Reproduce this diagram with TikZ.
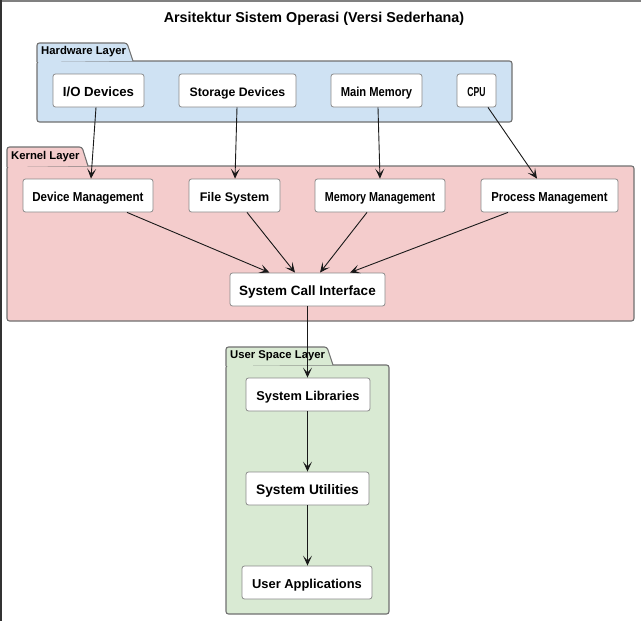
\documentclass[tikz,border=0pt]{standalone}
\usepackage{fontspec}
\usepackage{graphicx}
\setmainfont{Liberation Sans}
\usetikzlibrary{arrows.meta}
\definecolor{hwfill}{HTML}{CFE2F3}
\definecolor{kfill}{HTML}{F4CCCC}
\definecolor{ufill}{HTML}{D9EAD3}
\definecolor{frameline}{HTML}{707070}
\definecolor{boxline}{HTML}{8A8A8A}
\newcommand{\squeezed}[2]{\scalebox{#1}[1]{#2}}
\tikzset{
  box/.style={draw=boxline, line width=0.8pt, fill=white, rounded corners=2.5pt,
    minimum height=33pt, inner sep=0pt, text height=12pt, text depth=0pt,
    font=\bfseries\fontsize{#1}{#1}\selectfont},
  box/.default=13,
  layer/.style={draw=frameline, line width=1.1pt, rounded corners=2.5pt},
  tablabel/.style={anchor=west, inner sep=0pt, font=\bfseries\fontsize{11.3}{13}\selectfont},
  conn/.style={-{Stealth[length=10pt,width=9pt,inset=5pt]}, line width=0.9pt, black!90},
}
\begin{document}
\begin{tikzpicture}[x=1pt,y=-1pt]
\useasboundingbox (0,0) rectangle (641,621);
\draw[gray, line width=1.5pt] (0,0.75) -- (641,0.75);
\draw[black!80, line width=1.5pt] (0.75,0) -- (0.75,621);

\node[font=\bfseries\fontsize{14.3}{16}\selectfont] (title) at (314,19) {Arsitektur Sistem Operasi (Versi Sederhana)};

% Hardware layer
\draw[layer, fill=hwfill] (37,61) rectangle (512,122);
\draw[layer, fill=hwfill] (37,62) -- (37,43) -- (127,43) -- (133,61);
\node[tablabel] (hwl) at (41,52) {Hardware Layer};

% Kernel layer
\draw[layer, fill=kfill] (7,166) rectangle (634,321);
\draw[layer, fill=kfill] (7,167) -- (7,147) -- (82,147) -- (88,166);
\node[tablabel] (kl) at (11,157) {Kernel Layer};

% User space layer
\draw[layer, fill=ufill] (226,365) rectangle (389,614);
\draw[layer, fill=ufill] (226,366) -- (226,347) -- (327,347) -- (333,365);
\node[tablabel] (ul) at (230,356) {User Space Layer};

% Hardware nodes
\node[box=13.2, minimum width=91pt] (io) at (98.5,90.5) {I/O Devices};
\node[box=12.3, minimum width=117pt] (sto) at (237.5,90.5) {Storage Devices};
\node[box, minimum width=91pt] (mem) at (376.5,90.5) {\squeezed{0.86}{Main Memory}};
\node[box, minimum width=39pt] (cpu) at (476.5,90.5) {\squeezed{0.66}{CPU}};

% Kernel nodes
\node[box, minimum width=130pt] (dev) at (88,195.5) {\squeezed{0.89}{Device Management}};
\node[box=12.5, minimum width=91pt] (fs) at (234.5,195.5) {File System};
\node[box, minimum width=130pt] (mm) at (380,195.5) {\squeezed{0.83}{Memory Management}};
\node[box, minimum width=137pt] (pm) at (549.5,195.5) {\squeezed{0.87}{Process Management}};
\node[box=13.5, minimum width=155pt] (sci) at (307.5,289.5) {System Call Interface};

% User nodes
\node[box=12.8, minimum width=124pt] (lib) at (308,394.5) {System Libraries};
\node[box=13.8, minimum width=123pt] (util) at (307.5,488.5) {System Utilities};
\node[box=12.9, minimum width=130pt] (app) at (307,582.5) {User Applications};

% connectors
\draw[conn] ([xshift=-2.5pt]io.south) -- ([xshift=3pt]dev.north);
\draw[conn] ([xshift=-0.5pt]sto.south) -- ([xshift=0.5pt]fs.north);
\draw[conn] ([xshift=1.5pt]mem.south) -- (mm.north);
\draw[conn] ([xshift=11.5pt]cpu.south) -- ([xshift=-12.5pt]pm.north);
\draw[conn] ([xshift=39pt]dev.south) -- ([xshift=-38pt]sci.north);
\draw[conn] ([xshift=12.5pt]fs.south) -- ([xshift=-12.5pt]sci.north);
\draw[conn] ([xshift=-13pt]mm.south) -- ([xshift=12.5pt]sci.north);
\draw[conn] ([xshift=-41.5pt]pm.south) -- ([xshift=42.5pt]sci.north);
\draw[conn] (sci.south) -- (sci.south |- lib.north);
\draw[conn] (lib.south -| util.south) -- (util.north);
\draw[conn] (util.south) -- (util.south |- app.north);
\end{tikzpicture}
\end{document}
